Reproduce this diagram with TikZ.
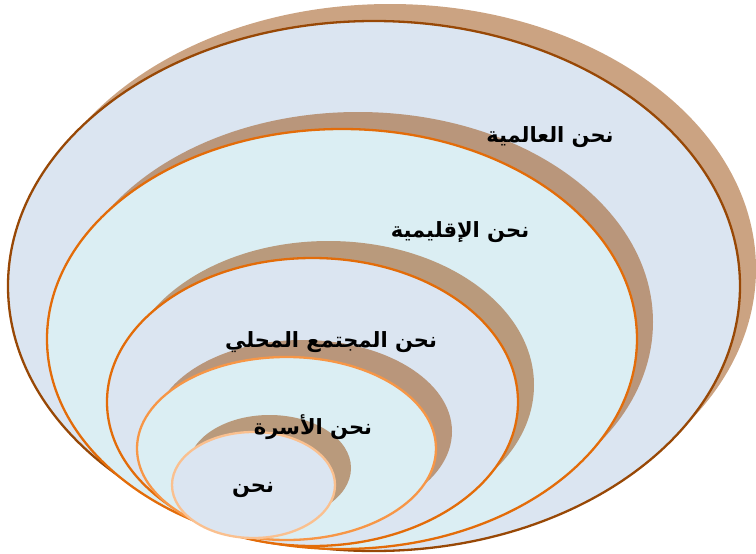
\documentclass[tikz,border=0pt]{standalone}
\usepackage{fontspec}
\TeXXeTstate=1
\newfontfamily\arabicfont[Script=Arabic]{DejaVu Sans}
\usetikzlibrary{shapes.geometric,shadows}
\definecolor{shb}{HTML}{984806}
\definecolor{lineA}{HTML}{984806}
\definecolor{lineB}{HTML}{E36C09}
\definecolor{lineC}{HTML}{F79646}
\definecolor{lineD}{HTML}{FAC08F}
\definecolor{fillA}{HTML}{DBE5F1}
\definecolor{fillB}{HTML}{DBEEF3}
\begin{document}
\begin{tikzpicture}[x=1pt,y=-1pt,
  ring/.style={ellipse, inner sep=0pt, outer sep=0pt, line width=2.3pt,
    drop shadow={shadow xshift=16pt, shadow yshift=17pt, fill=shb, opacity=0.5}},
  lbl/.style={font=\arabicfont\bfseries\fontsize{21}{25}\selectfont, text=black, inner sep=0pt}]
\useasboundingbox (0,0) rectangle (756,554);
\node[ring, draw=lineA, fill=fillA, minimum width=732pt, minimum height=530pt] (e1) at (374,286) {};
\node[ring, draw=lineB, fill=fillB, minimum width=590pt, minimum height=420pt] (e2) at (342,339) {};
\node[ring, draw=lineB, fill=fillA, minimum width=411pt, minimum height=288pt] (e3) at (312.5,402) {};
\node[ring, draw=lineC, fill=fillB, minimum width=299pt, minimum height=183pt] (e4) at (286.5,448.5) {};
\node[ring, draw=lineD, fill=fillA, minimum width=163pt, minimum height=106pt] (e5) at (253.5,485) {};
\node[lbl] (t1) at (550,137) {\beginR نحن العالمية\endR};
\node[lbl] (t2) at (460,232) {\beginR نحن الإقليمية\endR};
\node[lbl] (t3) at (331,342) {\beginR نحن المجتمع المحلي\endR};
\node[lbl] (t4) at (313,427) {\beginR نحن الأسرة\endR};
\node[lbl] (t5) at (253,490) {\beginR نحن\endR};
\end{tikzpicture}
\end{document}
